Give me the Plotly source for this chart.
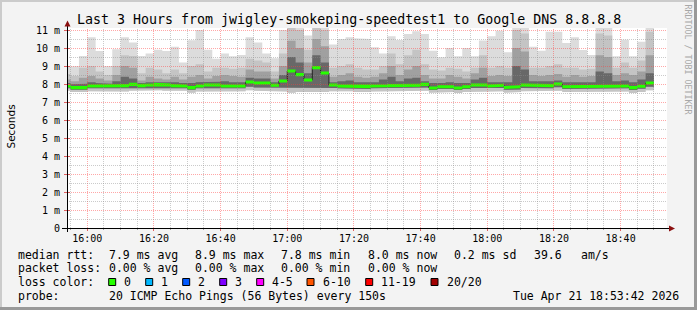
import math
import pandas as pd
import plotly.graph_objects as go

# ---------------- data ----------------
STEP_SECONDS = 150
first_step_start = pd.Timestamp("2026-04-21 15:52:30")

median = [
    7.89, 7.80, 7.80, 7.89, 7.89, 7.89, 7.89, 7.91, 7.98, 7.91,
    7.94, 7.98, 7.94, 7.91, 7.89, 7.80, 7.89, 7.94, 7.94, 7.89,
    7.89, 7.89, 8.11, 8.06, 8.06, 7.93, 8.17, 8.72, 8.52, 8.22,
    8.91, 8.61, 7.94, 7.89, 7.89, 7.85, 7.85, 7.89, 7.89, 7.91,
    7.91, 7.89, 7.93, 7.98, 7.78, 7.85, 7.85, 7.78, 7.85, 7.94,
    7.94, 7.89, 7.93, 7.81, 7.85, 7.94, 7.91, 7.91, 7.91, 8.00,
    7.85, 7.85, 7.85, 7.85, 7.89, 7.87, 7.89, 7.89, 7.80, 7.87,
    8.06]

ping_max = [
    8.96, 9.00, 9.55, 10.60, 9.83, 9.00, 9.93, 10.60, 10.30, 9.56,
    9.70, 9.90, 9.83, 10.07, 9.20, 10.43, 11.00, 9.90, 9.40, 9.70,
    9.54, 9.61, 10.60, 10.31, 9.70, 9.43, 11.00, 11.20, 11.20, 10.70,
    11.20, 11.20, 10.20, 10.50, 10.60, 10.54, 10.50, 10.04, 9.70, 10.65,
    10.44, 10.78, 10.93, 10.78, 9.85, 9.48, 10.00, 9.54, 10.00, 9.54,
    10.41, 10.65, 10.96, 9.76, 11.20, 11.20, 10.07, 9.85, 10.90, 10.90,
    10.28, 10.60, 9.89, 9.61, 11.20, 11.20, 9.54, 10.46, 9.54, 10.35,
    11.20]

ping_q90 = [
    8.55, 8.45, 8.90, 9.00, 8.70, 8.50, 9.00, 9.60, 9.55, 8.60,
    8.90, 8.80, 8.60, 8.80, 8.60, 9.00, 9.10, 8.70, 8.90, 8.90,
    8.85, 8.90, 9.40, 9.30, 9.20, 8.70, 9.70, 11.20, 11.00, 9.90,
    11.20, 11.00, 8.90, 9.00, 9.10, 8.90, 8.80, 8.80, 9.00, 9.70,
    9.10, 9.60, 9.90, 9.10, 8.80, 8.75, 8.90, 8.85, 8.70, 8.90,
    9.60, 8.90, 9.00, 8.90, 11.00, 10.80, 8.90, 8.90, 9.00, 9.10,
    8.90, 8.90, 8.80, 8.85, 10.80, 10.70, 8.90, 9.20, 8.90, 9.30,
    10.90]

ping_q75 = [
    8.25, 8.15, 8.35, 8.45, 8.30, 8.20, 8.50, 9.00, 8.90, 8.20,
    8.40, 8.30, 8.25, 8.40, 8.25, 8.40, 8.50, 8.30, 8.45, 8.50,
    8.45, 8.40, 8.80, 8.70, 8.70, 8.30, 9.00, 10.40, 10.00, 9.20,
    10.50, 10.10, 8.40, 8.50, 8.60, 8.40, 8.35, 8.40, 8.60, 9.00,
    8.50, 8.80, 9.00, 8.50, 8.30, 8.30, 8.50, 8.40, 8.30, 8.60,
    8.90, 8.45, 8.50, 8.45, 10.00, 9.80, 8.50, 8.45, 8.50, 8.55,
    8.40, 8.50, 8.40, 8.45, 9.60, 9.50, 8.50, 8.60, 8.50, 8.70,
    9.60]

ping_q60 = [
    8.05, 7.98, 8.02, 8.10, 8.05, 8.02, 8.15, 8.40, 8.30, 8.05,
    8.10, 8.10, 8.08, 8.10, 8.05, 8.05, 8.10, 8.10, 8.12, 8.15,
    8.10, 8.10, 8.35, 8.30, 8.30, 8.10, 8.50, 9.50, 9.20, 8.60,
    9.60, 9.20, 8.10, 8.15, 8.20, 8.10, 8.10, 8.10, 8.25, 8.40,
    8.15, 8.30, 8.35, 8.15, 8.05, 8.05, 8.10, 8.05, 8.05, 8.25,
    8.35, 8.10, 8.10, 8.10, 9.00, 8.80, 8.15, 8.12, 8.15, 8.20,
    8.10, 8.12, 8.10, 8.10, 8.70, 8.60, 8.15, 8.20, 8.10, 8.25,
    8.60]

ping_lo = [
    7.76, 7.68, 7.68, 7.76, 7.76, 7.76, 7.76, 7.76, 7.80, 7.76,
    7.78, 7.80, 7.78, 7.76, 7.76, 7.68, 7.76, 7.78, 7.78, 7.76,
    7.76, 7.76, 7.85, 7.80, 7.80, 7.76, 7.80, 7.78, 7.78, 7.78,
    7.80, 7.78, 7.78, 7.76, 7.76, 7.72, 7.72, 7.76, 7.76, 7.76,
    7.76, 7.76, 7.78, 7.80, 7.66, 7.72, 7.72, 7.66, 7.72, 7.78,
    7.78, 7.76, 7.78, 7.68, 7.70, 7.78, 7.76, 7.76, 7.76, 7.82,
    7.72, 7.72, 7.72, 7.72, 7.74, 7.74, 7.76, 7.76, 7.66, 7.74,
    7.85]

ping_min = [
    7.62, 7.55, 7.55, 7.60, 7.62, 7.62, 7.60, 7.58, 7.62, 7.62,
    7.62, 7.65, 7.62, 7.60, 7.62, 7.52, 7.58, 7.62, 7.62, 7.60,
    7.60, 7.60, 7.65, 7.62, 7.62, 7.58, 7.58, 7.52, 7.55, 7.58,
    7.55, 7.55, 7.60, 7.60, 7.60, 7.56, 7.55, 7.58, 7.60, 7.58,
    7.60, 7.58, 7.62, 7.62, 7.52, 7.56, 7.56, 7.50, 7.56, 7.60,
    7.60, 7.58, 7.60, 7.52, 7.55, 7.60, 7.60, 7.60, 7.58, 7.62,
    7.56, 7.56, 7.56, 7.56, 7.55, 7.55, 7.58, 7.58, 7.50, 7.56,
    7.65]

y_tick_vals = [0, 1, 2, 3, 4, 5, 6, 7, 8, 9, 10, 11]
y_tick_text = ["0", "1 m", "2 m", "3 m", "4 m", "5 m", "6 m", "7 m", "8 m", "9 m", "10 m", "11 m"]
x_tick_text = ["16:00", "16:20", "16:40", "17:00", "17:20", "17:40", "18:00", "18:20", "18:40"]

title_text = "Last 3 Hours from jwigley-smokeping-speedtest1 to Google DNS 8.8.8.8"
stats_rtt = ["7.9 ms avg", "8.9 ms max", "7.8 ms min", "8.0 ms now", "0.2 ms sd"]
stats_rtt_extra = ["39.6", "am/s"]
stats_loss = ["0.00 % avg", "0.00 % max", "0.00 % min", "0.00 % now"]
loss_labels = ["0", "1", "2", "3", "4-5", "6-10", "11-19", "20/20"]
loss_colors = ["#26ff00", "#00b8ff", "#0059ff", "#7e00ff", "#ff00ff", "#ff5500", "#ff0000", "#a10000"]
probe_text = "20 ICMP Echo Pings (56 Bytes) every 150s"
date_text = "Tue Apr 21 18:53:42 2026"

# ---------------- geometry ----------------
W, H = 697, 310
PL, PT, PW, PH = 67, 28, 600, 200
x_start = pd.Timestamp("2026-04-21 15:53:55")
x_end = x_start + pd.Timedelta(hours=3)
Y_MAX = PH / 18.0

def fx(px):
    return (px - PL) / PW

def fy(py):
    return (PT + PH - py) / PH

def t2px(t):
    return PL + (t - x_start).total_seconds() / (3 * 3600) * PW

def v2px(v):
    return PT + PH - v / Y_MAX * PH

n = len(median)
starts = list(pd.date_range(first_step_start, periods=n, freq=f"{STEP_SECONDS}s"))
ends = [s + pd.Timedelta(seconds=STEP_SECONDS) for s in starts]

fig = go.Figure()

def band(lo, hi, color):
    xs, ys = [], []
    for s, e, h in zip(starts, ends, hi):
        xs += [s, e]
        ys += [h, h]
    for s, e, l in reversed(list(zip(starts, ends, lo))):
        xs += [e, s]
        ys += [l, l]
    fig.add_trace(go.Scatter(x=xs, y=ys, mode="lines", fill="toself", fillcolor=color,
                             line=dict(width=0, color=color), hoverinfo="skip", showlegend=False))

band(ping_min, ping_max, "#dcdcdc")
band(ping_min, ping_q90, "#c4c4c4")
band(ping_lo, ping_q75, "#a0a0a0")
band(ping_lo, ping_q60, "#686868")

# median dark step line
line_x = starts + [ends[-1]]
line_y = list(median) + [median[-1]]
fig.add_trace(go.Scatter(x=line_x, y=line_y, mode="lines",
                         line=dict(color="#202020", width=1, shape="hv"),
                         hoverinfo="skip", showlegend=False))
# green median (loss 0) band
half = 0.085
band([m - half for m in median], [m + half for m in median], loss_colors[0])

shapes = []
GRID_MINOR = "rgba(140,140,140,0.45)"
GRID_MAJOR = "rgba(255,60,60,0.45)"

t = pd.Timestamp("2026-04-21 15:55:00")
while t <= x_end:
    px = math.floor(t2px(t)) + 0.5
    if PL < px < PL + PW:
        major = (t.minute % 20 == 0)
        shapes.append(dict(type="line", xref="paper", yref="paper", layer="above",
                           x0=fx(px), x1=fx(px), y0=0, y1=1,
                           line=dict(color=GRID_MAJOR if major else GRID_MINOR, width=1, dash="1px,1px")))
        shapes.append(dict(type="line", xref="paper", yref="paper", layer="above",
                           x0=fx(px), x1=fx(px), y0=fy(228), y1=fy(231 if major else 230),
                           line=dict(color="#e06060" if major else "#a0a0a0", width=1)))
    t += pd.Timedelta(minutes=5)

k = 1
while k * 0.5 <= Y_MAX:
    v = k * 0.5
    py = math.floor(v2px(v)) + 0.5
    major = (k % 2 == 0)
    shapes.append(dict(type="line", xref="paper", yref="paper", layer="above",
                       x0=0, x1=1, y0=fy(py), y1=fy(py),
                       line=dict(color=GRID_MAJOR if major else GRID_MINOR, width=1, dash="1px,1px")))
    if major:
        shapes.append(dict(type="line", xref="paper", yref="paper", layer="above",
                           x0=fx(64), x1=fx(70), y0=fy(py), y1=fy(py),
                           line=dict(color="#e06060", width=1)))
    k += 1

shapes.append(dict(type="line", xref="paper", yref="paper", layer="above",
                   x0=fx(62), x1=fx(670), y0=fy(228.5), y1=fy(228.5),
                   line=dict(color="#000000", width=1)))
shapes.append(dict(type="line", xref="paper", yref="paper", layer="above",
                   x0=fx(67.5), x1=fx(67.5), y0=fy(232), y1=fy(25),
                   line=dict(color="#000000", width=1)))

def path(points):
    return "M " + " L ".join(f"{fx(a):.5f},{fy(b):.5f}" for a, b in points) + " Z"

shapes.append(dict(type="path", xref="paper", yref="paper", layer="above",
                   path=path([(67.5, 20.5), (64.5, 26.5), (70.5, 26.5)]),
                   fillcolor="#8b1010", line=dict(width=0)))
shapes.append(dict(type="path", xref="paper", yref="paper", layer="above",
                   path=path([(675, 228.5), (669, 225.5), (669, 231.5)]),
                   fillcolor="#8b1010", line=dict(width=0)))

shapes.append(dict(type="rect", xref="paper", yref="paper", layer="below",
                   x0=fx(0), x1=fx(2), y0=fy(310), y1=fy(0),
                   fillcolor="#cbcbcb", line=dict(width=0)))
shapes.append(dict(type="rect", xref="paper", yref="paper", layer="below",
                   x0=fx(0), x1=fx(697), y0=fy(2), y1=fy(0),
                   fillcolor="#cbcbcb", line=dict(width=0)))
shapes.append(dict(type="rect", xref="paper", yref="paper", layer="below",
                   x0=fx(694), x1=fx(697), y0=fy(310), y1=fy(0),
                   fillcolor="#999999", line=dict(width=0)))
shapes.append(dict(type="rect", xref="paper", yref="paper", layer="below",
                   x0=fx(0), x1=fx(697), y0=fy(310), y1=fy(307),
                   fillcolor="#999999", line=dict(width=0)))

MONO = "DejaVu Sans Mono"
annotations = []

def text(s, x, y, size=11.5, xanchor="left", color="#000000", angle=0, family=MONO):
    annotations.append(dict(text=s, x=fx(x), y=fy(y), xref="paper", yref="paper",
                            xanchor=xanchor, yanchor="middle", showarrow=False,
                            textangle=angle, font=dict(family=family, size=size, color=color)))

text(title_text, 348.5, 19.5, size=13.3, xanchor="center")
text("Seconds", 10.5, 127, size=10.5, xanchor="center", angle=-90, family="DejaVu Sans")
text("RRDTOOL / TOBI OETIKER", 687.5, 59, size=8.3, xanchor="center", color="#a8a8a8", angle=90)

L1, L2, L3, L4 = 254.5, 268.3, 282.0, 295.7
col_x = [107.3, 193.3, 279.3, 366.0, 451.7]
text("median rtt:", 16, L1)
for s, x in zip(stats_rtt, col_x):
    text(s, x, L1)
text(stats_rtt_extra[0], 531.7, L1)
text(stats_rtt_extra[1], 579.3, L1)
text("packet loss:", 16, L2)
for s, x in zip(stats_loss, col_x):
    text(s, x, L2)
text("loss color:", 16, L3)
box_x = [108.7, 145.7, 182.7, 219.7, 256.7, 307.0, 365.7, 431.0]
for lab, col, bx in zip(loss_labels, loss_colors, box_x):
    shapes.append(dict(type="rect", xref="paper", yref="paper", layer="above",
                       x0=fx(bx), x1=fx(bx + 7), y0=fy(285.5), y1=fy(278.5),
                       fillcolor=col, line=dict(color="#000000", width=1)))
    text(lab, bx + 13.5, L3)
text("probe:", 16, L4)
text(probe_text, 107.3, L4)
text(date_text, 681, L4, xanchor="right")

fig.update_layout(
    width=W, height=H,
    margin=dict(l=PL, r=W - PL - PW, t=PT, b=H - PT - PH, pad=0),
    paper_bgcolor="#f3f3f3", plot_bgcolor="#ffffff",
    showlegend=False,
    shapes=shapes, annotations=annotations,
    xaxis=dict(type="date", range=[x_start, x_end], showgrid=False, zeroline=False,
               showline=False, ticks="", tickmode="array",
               tickvals=[pd.Timestamp("2026-04-21 16:00") + pd.Timedelta(minutes=20 * i) for i in range(len(x_tick_text))],
               ticktext=x_tick_text,
               tickfont=dict(family=MONO, size=10, color="#000000"),
               ticklabelstandoff=3),
    yaxis=dict(range=[0, Y_MAX], showgrid=False, zeroline=False, showline=False,
               tickmode="array", tickvals=y_tick_vals, ticktext=y_tick_text, ticks="",
               tickfont=dict(family=MONO, size=10, color="#000000"),
               ticklabelstandoff=6),
)

fig.write_html("out.html")
